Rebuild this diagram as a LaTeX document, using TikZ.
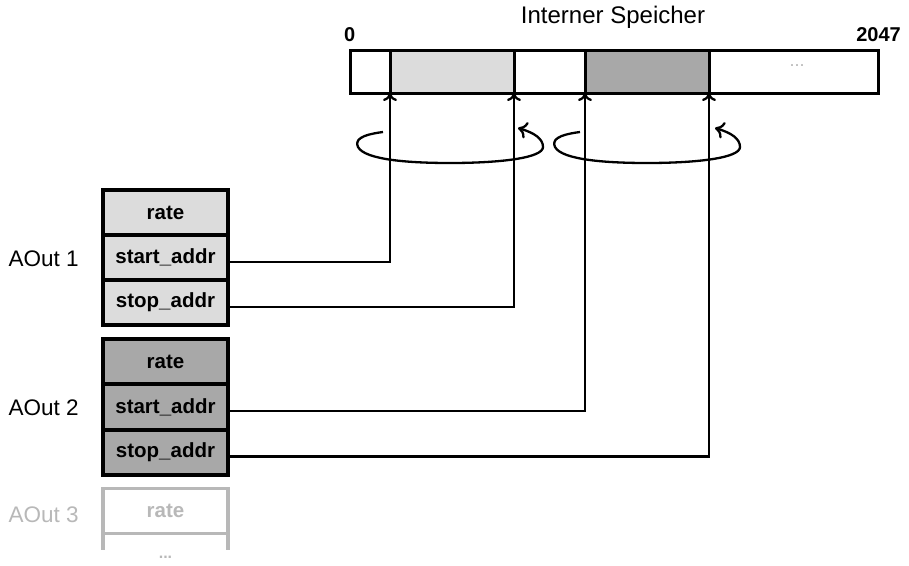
\documentclass[tikz,border=0pt]{standalone}
\usepackage{fontspec}
\setmainfont{Liberation Sans}
\usetikzlibrary{arrows.meta}
\definecolor{lightfill}{HTML}{DCDCDC}
\definecolor{darkfill}{HTML}{A8A8A8}
\definecolor{ghost}{HTML}{B8B8B8}
\tikzset{
  field/.style={draw=black, line width=3.2pt, minimum width=125pt, minimum height=45pt, inner sep=0pt, font=\fontsize{20.5}{22}\selectfont\bfseries},
  lightfield/.style={field, fill=lightfill},
  darkfield/.style={field, fill=darkfill},
  ghostfield/.style={draw=ghost, line width=3.2pt, minimum width=125pt, minimum height=45pt, inner sep=0pt, text=ghost, font=\fontsize{20.5}{22}\selectfont\bfseries},
  chlabel/.style={anchor=west, font=\fontsize{22.5}{24}\selectfont},
  link/.style={line width=2.3pt, -{To[length=8pt,width=14pt]}},
  swirl/.style={line width=2.3pt, -{To[length=9pt,width=17pt]}},
  memcell/.style={draw=black, line width=3pt},
}
\begin{document}
\begin{tikzpicture}[x=1pt,y=-1pt]
\useasboundingbox (0,0) rectangle (909,565);
% memory
\node[font=\fontsize{24}{26}\selectfont] (title) at (613,17) {Interner Speicher};
\node[font=\fontsize{20}{22}\selectfont\bfseries, anchor=base west, inner sep=0pt] (zero) at (344,41) {0};
\node[font=\fontsize{20}{22}\selectfont\bfseries, anchor=base east, inner sep=0pt] (top) at (901,41) {2047};
\fill[lightfill] (390,50) rectangle (514,93);
\fill[darkfill] (585,50) rectangle (709,93);
\draw[memcell] (350,50) rectangle (878,93);
\foreach \x in {390,514,585,709} \draw[memcell] (\x,50) -- (\x,93);
\node[text=ghost, font=\fontsize{18}{20}\selectfont] (dots1) at (797,66) {...};
\coordinate (m1) at (390,93);
\coordinate (m2) at (514,93);
\coordinate (m3) at (585,93);
\coordinate (m4) at (709,93);
% AOut 1
\node[lightfield] (r1) at (165.5,212.5) {rate};
\node[lightfield] (s1) at (165.5,257.5) {start\_addr};
\node[lightfield] (e1) at (165.5,302.5) {stop\_addr};
\node[chlabel] (l1) at (5,259) {AOut 1};
% AOut 2
\node[darkfield] (r2) at (165.5,361.5) {rate};
\node[darkfield] (s2) at (165.5,407) {start\_addr};
\node[darkfield] (e2) at (165.5,452.5) {stop\_addr};
\node[chlabel] (l2) at (5,408) {AOut 2};
% AOut 3
\node[ghostfield] (r3) at (165.5,511) {rate};
\draw[ghost, line width=3.2pt] (103,533) -- (103,550) (228,533) -- (228,550);
\node[chlabel, text=ghost] (l3) at (5,515) {AOut 3};
\node[text=ghost, font=\fontsize{16}{18}\selectfont\bfseries] (dots2) at (165.5,557) {...};
% connectors
\draw[link] ([yshift=-4.5pt]s1.east) -| (m1);
\draw[link] ([yshift=-4.5pt]e1.east) -| (m2);
\draw[link] ([yshift=-4pt]s2.east) -| (m3);
\draw[link] ([yshift=-4pt]e2.east) -| (m4);
% swirls
\foreach \cx in {450,647}{
  \draw[swirl] (\cx-67,132) .. controls (\cx-90,135) and (\cx-95,140) .. (\cx-92,147)
     .. controls (\cx-85,160) and (\cx-40,163) .. (\cx,163)
     .. controls (\cx+50,163) and (\cx+93,158) .. (\cx+93,147)
     .. controls (\cx+93,139) and (\cx+85,133) .. (\cx+68,128);
}
\end{tikzpicture}
\end{document}
